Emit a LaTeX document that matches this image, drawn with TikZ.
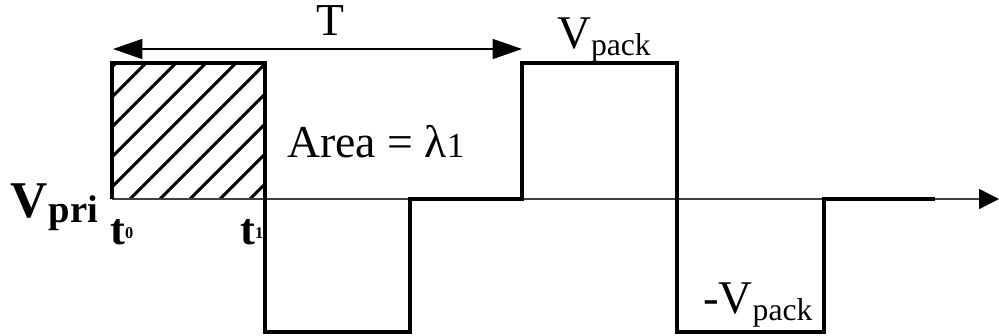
\documentclass[tikz,border=0pt]{standalone}
\usepackage{fontspec}
\setmainfont{Liberation Serif}
\usetikzlibrary{arrows.meta}
\begin{document}
\begin{tikzpicture}[x=0.03cm,y=-0.03cm,
    wave/.style={line width=2.8pt,line join=miter},
    hatchline/.style={line width=2.6pt},
    axisline/.style={line width=1.3pt,black!75},
    lbl/.style={inner sep=0pt,anchor=base west,font=\fontsize{39}{39}\selectfont}]
      \useasboundingbox (0,0) rectangle (999,336);
      %% shaded area t0..t1
      \begin{scope}
        \clip (112,63) rectangle (265,199);
        \foreach \b in {-20,10,...,250} \draw[hatchline] (\b,199) -- ++(136,-136);
      \end{scope}
      \coordinate (o) at (112,199);
      \coordinate (xend) at (999,199);
      \draw[axisline,-{Triangle[length=17pt,width=17pt,black]}] (o) -- (xend);
      \draw[wave] (o) -- (112,63) -- (265,63) -- (265,332) -- (410,332) -- (410,199)
        -- (522,199) -- (522,63) -- (677,63) -- (677,332) -- (824,332) -- (824,199) -- (935,199);
      \coordinate (pa) at (113,49);
      \coordinate (pb) at (522,49);
      \draw[axisline,black,{Triangle[length=25pt,width=17pt]}-{Triangle[length=25pt,width=17pt]}] (pa) -- (pb);
      \node[lbl,anchor=base] (period) at (330,35) {T};
      \node[lbl] (area) at (287,157) {Area = λ{\fontsize{30}{30}\selectfont 1}};
      \node[lbl,font=\fontsize{40}{40}\selectfont] (vpack) at (557,48) {V\raisebox{-6pt}{\fontsize{27}{27}\selectfont pack}};
      \node[lbl,font=\fontsize{40}{40}\selectfont] (vneg) at (703,313) {-V\raisebox{-6pt}{\fontsize{27}{27}\selectfont pack}};
      \node[lbl,font=\fontsize{44}{44}\selectfont\bfseries] (vpri) at (10,217)
        {V\kern1pt\raisebox{-5pt}{\fontsize{33}{33}\selectfont pri}};
      \node[lbl,font=\fontsize{38}{38}\selectfont\bfseries] (t0) at (110,244)
        {t\raisebox{5pt}{\fontsize{14}{14}\selectfont 0}};
      \node[lbl,font=\fontsize{38}{38}\selectfont\bfseries] (t1) at (240,244)
        {t\raisebox{5pt}{\fontsize{14}{14}\selectfont 1}};
    \end{tikzpicture}
\end{document}
